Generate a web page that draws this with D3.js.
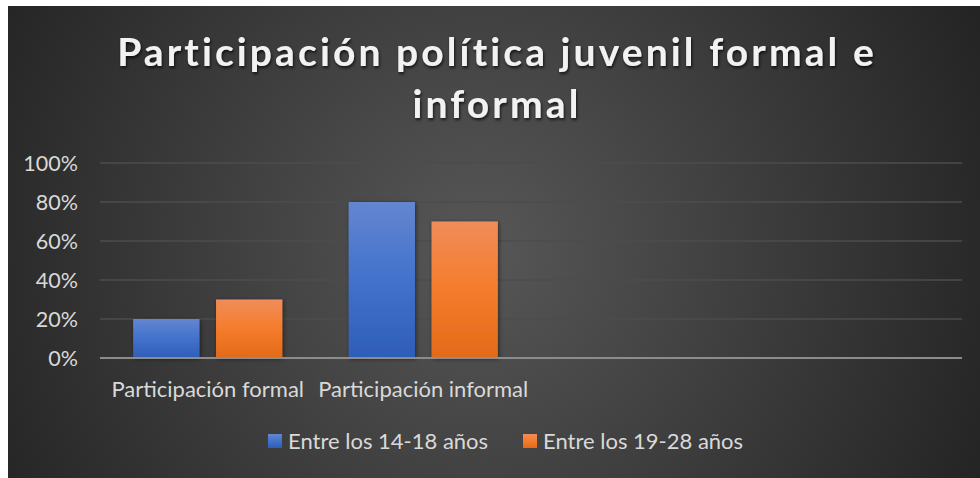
<!DOCTYPE html>
<html><head><meta charset="utf-8">
<script src="https://cdn.jsdelivr.net/npm/d3@7"></script>
<style>body{margin:0;background:#fff;}svg{display:block;}</style>
</head><body>
<svg id="c" width="980" height="478"></svg>
<script>
const categories = ["Participación formal", "Participación informal", "", ""];
const seriesNames = ["Entre los 14-18 años", "Entre los 19-28 años"];
const series1 = [0.20, 0.80, null, null];
const series2 = [0.30, 0.70, null, null];
const yTicks = [0, 0.2, 0.4, 0.6, 0.8, 1.0];
const titleLines = ["Participación política juvenil formal e", "informal"];

const svg = d3.select("#c");
const defs = svg.append("defs");
const bg = defs.append("radialGradient").attr("id","bg").attr("gradientUnits","userSpaceOnUse")
  .attr("cx",480).attr("cy",250).attr("r",560);
bg.append("stop").attr("offset","0").attr("stop-color","#575757");
bg.append("stop").attr("offset","1").attr("stop-color","#232323");
const gb = defs.append("linearGradient").attr("id","gBlue").attr("x1",0).attr("y1",0).attr("x2",0).attr("y2",1);
gb.append("stop").attr("offset","0").attr("stop-color","#6486d0");
gb.append("stop").attr("offset","0.5").attr("stop-color","#4272cc");
gb.append("stop").attr("offset","1").attr("stop-color","#2e5db7");
const go = defs.append("linearGradient").attr("id","gOrange").attr("x1",0).attr("y1",0).attr("x2",0).attr("y2",1);
go.append("stop").attr("offset","0").attr("stop-color","#f08d5a");
go.append("stop").attr("offset","0.5").attr("stop-color","#f47c2c");
go.append("stop").attr("offset","1").attr("stop-color","#e36a18");
const sh = defs.append("filter").attr("id","sh").attr("x","-20%").attr("y","-20%").attr("width","140%").attr("height","140%");
sh.append("feDropShadow").attr("dx",1).attr("dy",1).attr("stdDeviation",2).attr("flood-color","#000").attr("flood-opacity",0.5);
const tsh = defs.append("filter").attr("id","tsh").attr("x","-10%").attr("y","-30%").attr("width","120%").attr("height","160%");
tsh.append("feDropShadow").attr("dx",1).attr("dy",2).attr("stdDeviation",1.5).attr("flood-color","#000").attr("flood-opacity",0.7);

svg.append("rect").attr("x",8).attr("y",6).attr("width",972).attr("height",472).attr("fill","url(#bg)");

const font = "Lato, 'Open Sans', sans-serif";
// Title
const title = svg.append("g").attr("filter","url(#tsh)");
title.selectAll("text").data(titleLines).join("text")
  .attr("x",497).attr("y",(d,i)=>66+i*52)
  .attr("text-anchor","middle").attr("font-family",font).attr("font-weight","bold")
  .attr("font-size",39).attr("letter-spacing",3.1).attr("fill","#f2f2f2").text(d=>d);

const x0 = d3.scaleBand().domain(categories.map((d,i)=>i)).range([100,962]);
const y = d3.scaleLinear().domain([0,1]).range([358,163]);
const x1 = d3.scaleBand().domain([0,1]).range([0,x0.bandwidth()]).paddingInner(0.2).paddingOuter(0.4);

// gridlines
svg.append("g").selectAll("line").data(yTicks.filter(d=>d>0)).join("line")
  .attr("x1",100).attr("x2",962).attr("y1",d=>y(d)).attr("y2",d=>y(d))
  .attr("stroke","#4d4d4d").attr("stroke-width",1.3);

const yAxis = d3.axisLeft(y).tickValues(yTicks).tickFormat(d3.format(".0%")).tickSize(0).tickPadding(0);
const ya = svg.append("g").attr("transform","translate(78,0)").call(yAxis);
ya.select(".domain").remove();
ya.selectAll("text").attr("font-family",font).attr("font-size",21.5).attr("fill","#d9d9d9").attr("dy","0.36em");

// bars
const data = [series1, series2];
const fills = ["url(#gBlue)","url(#gOrange)"];
const bars = svg.append("g").attr("filter","url(#sh)");
data.forEach((s,si)=>{
  bars.selectAll(".b"+si).data(s.map((v,i)=>({v,i})).filter(d=>d.v!=null)).join("rect")
    .attr("x",d=>x0(d.i)+x1(si)).attr("width",x1.bandwidth())
    .attr("y",d=>y(d.v)).attr("height",d=>y(0)-y(d.v)).attr("fill",fills[si]);
});

// baseline
svg.append("line").attr("x1",100).attr("x2",962).attr("y1",y(0)).attr("y2",y(0))
  .attr("stroke","#8c8c8c").attr("stroke-width",2);

// category labels
const xAxis = d3.axisBottom(x0).tickFormat(i=>categories[i]).tickSize(0).tickPadding(0);
const xa = svg.append("g").attr("transform","translate(0,397)").call(xAxis);
xa.select(".domain").remove();
xa.selectAll("text").attr("font-family",font).attr("font-size",22).attr("fill","#d9d9d9").attr("dy","0");

// legend
const legX = [268, 523];
const lg = svg.append("g");
seriesNames.forEach((n,i)=>{
  lg.append("rect").attr("x",legX[i]).attr("y",434).attr("width",14).attr("height",14).attr("fill",fills[i]);
  lg.append("text").attr("x",legX[i]+20).attr("y",449).attr("font-family",font).attr("font-size",22)
    .attr("fill","#d9d9d9").text(n);
});
</script>
</body></html>
